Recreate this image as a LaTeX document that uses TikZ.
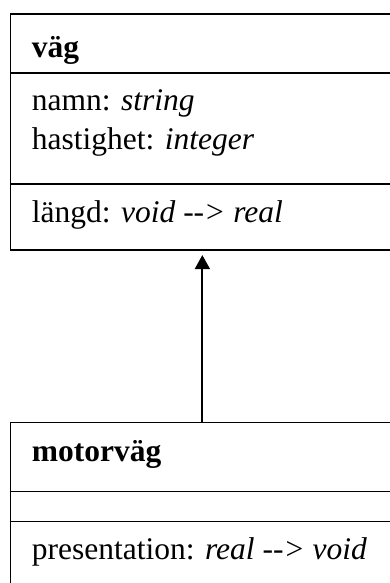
\documentclass[tikz,border=0pt]{standalone}
\usepackage{fontspec}
\setmainfont{Liberation Serif}
\usetikzlibrary{arrows.meta}
\begin{document}
\begin{tikzpicture}[x=1pt,y=1pt]
    \tikzset{cell/.style = {draw, line width=1.3pt, minimum width=384pt, anchor=north west, inner sep=0pt}}
    \tikzset{entry/.style = {anchor=base west, inner sep=0pt, font=\fontsize{31.5pt}{38pt}\selectfont}}
    \tikzset{edge/.style = {->, > = {Triangle[length=14pt,width=15pt]}, line width=1.8pt, shorten > = 4.5pt}}
    \clip (0,0) rectangle (390,-583);
    % class vag
    \node[cell, minimum height=59pt] (vag-head) at (9.7,-13.3) {};
    \node[cell, minimum height=111pt] (vag-attr) at (9.7,-72.3) {};
    \node[cell, minimum height=66pt] (vag-ops) at (9.7,-183.3) {};
    \node[entry] (vag-name) at (31.7,-57.3) {\textbf{väg}};
    \node[entry] (vag-namn) at (31.7,-110.7) {namn: \textit{string}};
    \node[entry] (vag-hast) at (31.7,-149) {hastighet: \textit{integer}};
    \node[entry] (vag-langd) at (31.7,-222.7) {längd: \textit{void -{}-> real}};
    % class motorvag
    \node[cell, minimum height=69pt] (motorvag-head) at (9.7,-422) {};
    \node[cell, minimum height=30pt] (motorvag-attr) at (9.7,-491) {};
    \node[cell, minimum height=80pt] (motorvag-ops) at (9.7,-521) {};
    \node[entry] (motorvag-name) at (31.7,-461.7) {\textbf{motorväg}};
    \node[entry] (motorvag-pres) at (31.7,-559) {presentation: \textit{real -{}-> void}};
    % inheritance
    \draw[edge] (motorvag-head.north) -- (vag-ops.south);
\end{tikzpicture}
\end{document}
